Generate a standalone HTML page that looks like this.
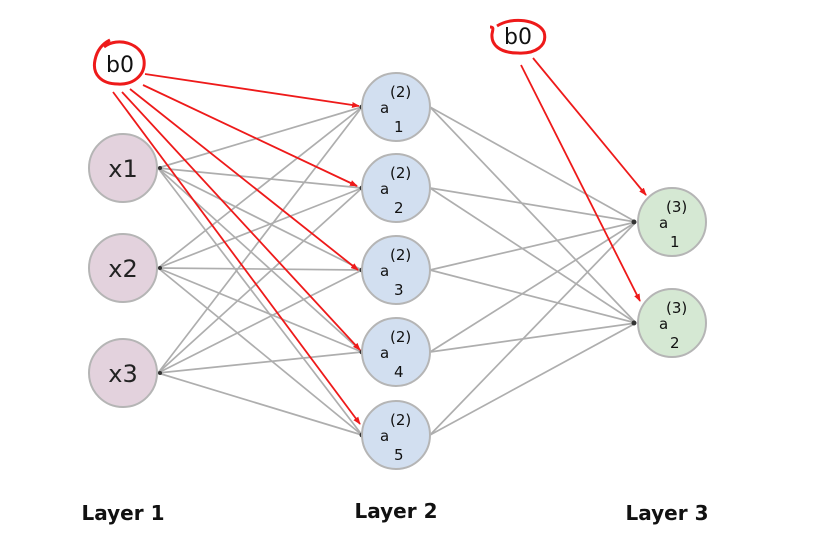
<!DOCTYPE html>
<html><head><meta charset="utf-8"><style>
body{margin:0;background:#fff;}
svg{display:block;font-family:"DejaVu Sans","Liberation Sans",sans-serif;}
</style></head><body>
<svg width="825" height="535" viewBox="0 0 825 535">
<defs>
<marker id="ar" markerWidth="8" markerHeight="8" refX="7" refY="4" orient="auto" markerUnits="userSpaceOnUse">
<path d="M0,1 L8,4 L0,7 z" fill="#ee1a1a"/></marker>
</defs>
<g stroke="#9a9a9a" stroke-width="1.7" opacity="0.8">
<line x1="158" y1="168" x2="362" y2="107"/><line x1="158" y1="168" x2="362" y2="188"/><line x1="158" y1="168" x2="362" y2="270"/><line x1="158" y1="168" x2="362" y2="352"/><line x1="158" y1="168" x2="362" y2="435"/>
<line x1="158" y1="268" x2="362" y2="107"/><line x1="158" y1="268" x2="362" y2="188"/><line x1="158" y1="268" x2="362" y2="270"/><line x1="158" y1="268" x2="362" y2="352"/><line x1="158" y1="268" x2="362" y2="435"/>
<line x1="158" y1="373" x2="362" y2="107"/><line x1="158" y1="373" x2="362" y2="188"/><line x1="158" y1="373" x2="362" y2="270"/><line x1="158" y1="373" x2="362" y2="352"/><line x1="158" y1="373" x2="362" y2="435"/>
<line x1="430" y1="107" x2="636" y2="222"/><line x1="430" y1="107" x2="636" y2="323"/>
<line x1="430" y1="188" x2="636" y2="222"/><line x1="430" y1="188" x2="636" y2="323"/>
<line x1="430" y1="270" x2="636" y2="222"/><line x1="430" y1="270" x2="636" y2="323"/>
<line x1="430" y1="352" x2="636" y2="222"/><line x1="430" y1="352" x2="636" y2="323"/>
<line x1="430" y1="435" x2="636" y2="222"/><line x1="430" y1="435" x2="636" y2="323"/>
</g>
<g fill="#333">
<circle cx="362" cy="107" r="2.5"/><circle cx="362" cy="188" r="2.5"/><circle cx="362" cy="270" r="2.5"/><circle cx="362" cy="352" r="2.5"/><circle cx="362" cy="435" r="2.5"/>
<circle cx="634" cy="222" r="2.5"/><circle cx="634" cy="323" r="2.5"/>
<circle cx="160" cy="168" r="2"/><circle cx="160" cy="268" r="2"/><circle cx="160" cy="373" r="2"/>
</g>
<g stroke="#b5b5b5" stroke-width="2">
<circle cx="123" cy="168" r="34" fill="#e3d2dd"/>
<circle cx="123" cy="268" r="34" fill="#e3d2dd"/>
<circle cx="123" cy="373" r="34" fill="#e3d2dd"/>
<circle cx="396" cy="107" r="34" fill="#d2dff0"/>
<circle cx="396" cy="188" r="34" fill="#d2dff0"/>
<circle cx="396" cy="270" r="34" fill="#d2dff0"/>
<circle cx="396" cy="352" r="34" fill="#d2dff0"/>
<circle cx="396" cy="435" r="34" fill="#d2dff0"/>
<circle cx="672" cy="222" r="34" fill="#d5e8d3"/>
<circle cx="672" cy="323" r="34" fill="#d5e8d3"/>
</g>
<g font-size="24" fill="#222" text-anchor="middle">
<text x="123" y="177">x1</text><text x="123" y="277">x2</text><text x="123" y="382">x3</text>
</g>
<g font-size="15" fill="#111">
<text x="380" y="113">a</text><text x="390" y="97">(2)</text><text x="394" y="132">1</text>
<text x="380" y="194">a</text><text x="390" y="178">(2)</text><text x="394" y="213">2</text>
<text x="380" y="276">a</text><text x="390" y="260">(2)</text><text x="394" y="295">3</text>
<text x="380" y="358">a</text><text x="390" y="342">(2)</text><text x="394" y="377">4</text>
<text x="380" y="441">a</text><text x="390" y="425">(2)</text><text x="394" y="460">5</text>
<text x="659" y="228">a</text><text x="666" y="212">(3)</text><text x="670" y="247">1</text>
<text x="659" y="329">a</text><text x="666" y="313">(3)</text><text x="670" y="348">2</text>
</g>
<g stroke="#ee1a1a" stroke-width="1.8" fill="none" marker-end="url(#ar)">
<line x1="145" y1="74" x2="359" y2="106"/>
<line x1="143" y1="85" x2="357" y2="186"/>
<line x1="130" y1="89" x2="358" y2="270"/>
<line x1="122" y1="92" x2="360" y2="350"/>
<line x1="113" y1="92" x2="360" y2="424"/>
<line x1="533" y1="58" x2="646" y2="195"/>
<line x1="521" y1="65" x2="640" y2="301"/>
</g>
<g stroke="#ee1a1a" stroke-width="3" fill="none">
<path d="M104,47 C118,36 142,44 144,60 C146,76 132,85 118,84 C101,84 92,74 95,60 C97,50 102,44 110,40"/>
<path d="M497,26 C513,16 538,20 544,32 C548,46 535,54 518,53 C500,53 491,45 492,34 C493,29 494,27 490,27"/>
</g>
<g font-size="22" fill="#111" text-anchor="middle">
<text x="120" y="72">b0</text><text x="518" y="44">b0</text>
</g>
<g font-size="20" fill="#111" text-anchor="middle" font-weight="bold" style="font-weight:600">
<text x="123" y="520">Layer 1</text><text x="396" y="518">Layer 2</text><text x="667" y="520">Layer 3</text>
</g>
</svg>
</body></html>
